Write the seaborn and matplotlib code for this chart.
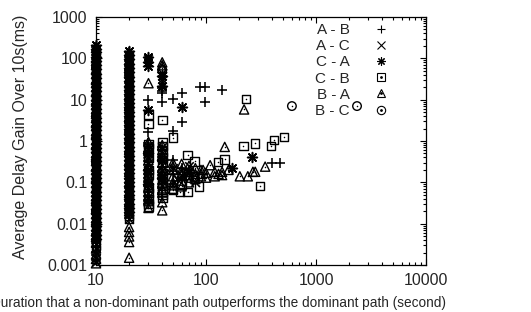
import numpy as np
import pandas as pd
import seaborn as sns
import matplotlib.pyplot as plt
from matplotlib.lines import Line2D
from matplotlib.legend_handler import HandlerTuple
from matplotlib.ticker import LogLocator, NullFormatter, FixedLocator, FixedFormatter

# ---- data: gain (ms) per duration column ----
# A - B  (+)
ab_c10 = [190, 150, 120, 95, 70, 55, 42, 33, 26, 20.5, 16, 12.5, 9.5, 7.7, 6, 4.8, 3.7, 3,
          2.3, 1.85, 1.4, 1.1, 0.85, 0.68, 0.52, 0.42, 0.33, 0.26, 0.2, 0.16, 0.12, 0.095,
          0.075, 0.06, 0.046, 0.037, 0.028, 0.022, 0.017, 0.014, 0.011, 0.0088, 0.0068,
          0.0055, 0.0042, 0.0034, 0.0027, 0.0021, 0.0017, 0.0013]
ab_c20 = [140, 110, 85, 66, 52, 41, 33, 26, 20, 15.5, 12, 9.5, 7.5, 5.9, 4.6, 3.6, 2.8, 2.2,
          1.75, 1.37, 1.07, 0.84, 0.66, 0.52, 0.41, 0.32, 0.25, 0.2, 0.155, 0.12, 0.095,
          0.074, 0.058, 0.046, 0.036, 0.028, 0.022, 0.018, 0.014]
ab_c30 = [10, 1.65, 0.9, 0.8, 0.55, 0.45, 0.33, 0.27, 0.2, 0.16, 0.13, 0.1, 0.08, 0.06,
          0.048, 0.037, 0.03]
ab_c40 = [19, 16, 14.5, 8.8, 0.7, 0.62, 0.4, 0.33, 0.24, 0.19, 0.15, 0.12, 0.09, 0.072,
          0.055, 0.045]
ab_dur = [50, 50, 50, 50, 50, 60, 60, 60, 60, 70, 88, 98, 98, 140, 400, 470]
ab_gain = [10.5, 1.7, 0.35, 0.16, 0.09, 14.6, 2.9, 0.12, 0.22, 0.2, 20.5, 20, 8.8, 17,
           0.29, 0.29]

# A - C  (x)
ac_c10 = [160, 125, 100, 78, 60, 47, 36, 28, 22, 17, 13.5, 10.5, 8.2, 6.4, 5, 3.9, 3.1,
          2.4, 1.9, 1.5, 1.15, 0.9, 0.7, 0.55, 0.43, 0.34, 0.27, 0.21, 0.165, 0.13, 0.1,
          0.08, 0.062, 0.049, 0.038, 0.03, 0.023, 0.018, 0.014, 0.011, 0.0085, 0.0066,
          0.0052, 0.0041, 0.0033, 0.0026, 0.002, 0.0015, 0.0012]
ac_c20 = [120, 93, 72, 57, 44, 35, 27, 21, 16.5, 13, 10, 8, 6.2, 4.9, 3.8, 3, 2.3, 1.8,
          1.4, 1.1, 0.86, 0.68, 0.53, 0.41, 0.32, 0.25, 0.2, 0.155, 0.12, 0.095, 0.075,
          0.059, 0.046, 0.036, 0.028, 0.022, 0.017, 0.013]
ac_c30 = [95, 0.75, 0.6, 0.38, 0.3, 0.17, 0.13, 0.09, 0.07, 0.045]
ac_c40 = [45, 32, 26, 0.7, 0.5, 0.27, 0.2, 0.14, 0.11, 0.08]
ac_dur = [50, 60, 70, 80, 55]
ac_gain = [0.22, 0.14, 0.25, 0.1, 0.12]

# C - A  (*)
ca_c10 = [210, 170, 140, 110, 88, 69, 54, 42, 33, 26, 20, 16, 12.5, 9.8, 7.7, 6, 4.7, 3.7,
          2.9, 2.3, 1.8, 1.4, 1.1, 0.86, 0.68, 0.53, 0.42, 0.33, 0.26, 0.2, 0.16, 0.125,
          0.098, 0.077, 0.06, 0.047, 0.037, 0.029, 0.023, 0.018, 0.014, 0.011, 0.0088,
          0.0069, 0.0054, 0.0043]
ca_c20 = [150, 118, 95, 74, 58, 46, 36, 28, 22, 17, 13.5, 10.6, 8.3, 6.5, 5.1, 4, 3.1, 2.4,
          1.9, 1.5, 1.2, 0.92, 0.72, 0.56, 0.44, 0.35, 0.27, 0.21, 0.17, 0.13, 0.1, 0.08,
          0.063, 0.05, 0.039, 0.03, 0.024, 0.019]
ca_c30 = [108, 81, 66, 5.6, 0.5, 0.2, 0.09]
ca_c40 = [38, 22, 0.35, 0.13]
ca_dur = [60, 70, 172, 262]
ca_gain = [6.7, 0.18, 0.22, 0.41]

# C - B  (square)
cb_c10 = [130, 80, 48, 29, 18, 11, 6.8, 4.2, 2.6, 1.6, 1.0, 0.62, 0.38, 0.23, 0.145,
          0.09, 0.055, 0.034, 0.021, 0.013, 0.008, 0.005, 0.003]
cb_c20 = [110, 66, 40, 24, 15, 9, 5.5, 3.3, 2, 1.2, 0.75, 0.46, 0.28, 0.17, 0.1, 0.062,
          0.038, 0.024, 0.016, 0.013]
cb_c30 = [4.3, 2.6, 0.85, 0.65, 0.4, 0.2, 0.15, 0.075, 0.055, 0.04, 0.03, 0.026]
cb_c40 = [3.2, 0.95, 0.75, 0.55, 0.4, 0.3, 0.17, 0.12, 0.085, 0.06, 0.05, 0.042]
cb_dur = [50, 58, 68, 68, 79, 86, 128, 148, 218, 230, 280, 310, 390, 415, 510, 50, 60]
cb_gain = [1.2, 0.058, 0.058, 0.46, 0.32, 0.08, 0.31, 0.36, 0.75, 10.4, 0.88, 0.082, 0.75,
           1.05, 1.25, 0.065, 0.09]

# B - A  (triangle)
ba_c10 = [100, 55, 30, 16, 9, 5, 2.7, 1.5, 0.8, 0.45, 0.24, 0.13, 0.072, 0.04, 0.022,
          0.012, 0.0065, 0.0048, 0.0035, 0.0025, 0.0018, 0.0014, 0.0011]
ba_c20 = [90, 48, 25, 13, 7, 3.8, 2, 1.1, 0.6, 0.33, 0.18, 0.1, 0.055, 0.033, 0.02, 0.0083,
          0.0063, 0.0049, 0.0036, 0.0015]
ba_c30 = [25, 0.95, 0.7, 0.5, 0.35, 0.25, 0.14, 0.11, 0.08, 0.045, 0.035, 0.024]
ba_c40 = [80, 68, 58, 0.8, 0.6, 0.45, 0.3, 0.22, 0.16, 0.1, 0.065, 0.033, 0.021]
ba_dur = [50, 50, 50, 50, 50, 50, 50, 60, 60, 60, 60, 60, 60, 70, 70, 70, 70, 70, 80, 80,
          80, 80, 90, 90, 90, 94, 100, 100, 109, 120, 120, 130, 140, 140, 148, 160, 203,
          222, 240, 267, 280, 345]
ba_gain = [0.3, 0.24, 0.2, 0.14, 0.1, 0.085, 0.07, 0.28, 0.2, 0.17, 0.15, 0.11, 0.08, 0.25,
           0.18, 0.15, 0.13, 0.1, 0.22, 0.16, 0.14, 0.12, 0.2, 0.16, 0.14, 0.2, 0.17, 0.13,
           0.26, 0.14, 0.18, 0.16, 0.18, 0.15, 0.72, 0.2, 0.14, 5.8, 0.14, 0.18, 0.18, 0.24]

# B - C  (circle)
bc_c10 = [60, 4, 0.3, 0.02]
bc_c20 = [50, 3, 0.25]
bc_c30 = []
bc_c40 = []
bc_dur = [40, 604, 2360]
bc_gain = [52, 7, 7]

labels = ["A - B", "A - C", "C - A", "C - B", "B - A", "B - C"]
xticks = [10, 100, 1000, 10000]
xticklabels = ["10", "100", "1000", "10000"]
yticks = [0.001, 0.01, 0.1, 1, 10, 100, 1000]
yticklabels = ["0.001", "0.01", "0.1", "1", "10", "100", "1000"]


def build(c10, c20, c30, c40, dur, gain):
    x = [10] * len(c10) + [20] * len(c20) + [30] * len(c30) + [40] * len(c40) + dur
    y = c10 + c20 + c30 + c40 + gain
    return pd.DataFrame({"dur": x, "gain": y})


series = [
    build(ab_c10, ab_c20, ab_c30, ab_c40, ab_dur, ab_gain),
    build(ac_c10, ac_c20, ac_c30, ac_c40, ac_dur, ac_gain),
    build(ca_c10, ca_c20, ca_c30, ca_c40, ca_dur, ca_gain),
    build(cb_c10, cb_c20, cb_c30, cb_c40, cb_dur, cb_gain),
    build(ba_c10, ba_c20, ba_c30, ba_c40, ba_dur, ba_gain),
    build(bc_c10, bc_c20, bc_c30, bc_c40, bc_dur, bc_gain),
]
markers = ["+", "x", (8, 2, 0), "s", "^", "o"]
dotted = [False, False, False, True, True, True]
sizes = [58, 38, 50, 38, 44, 38]

sns.set_style("ticks")
plt.rcParams["font.family"] = ["Liberation Sans", "DejaVu Sans"]

fig = plt.figure(figsize=(5.31, 3.12), dpi=100)
ax = fig.add_axes([96 / 531, 1 - 265 / 312, 330 / 531, 248 / 312])

for df, m, dot, sz in zip(series, markers, dotted, sizes):
    if dot:
        sns.scatterplot(data=df, x="dur", y="gain", marker=m, s=sz, facecolor="none",
                        edgecolor="black", linewidth=1.0, clip_on=False, ax=ax, zorder=3)
        sns.scatterplot(data=df, x="dur", y="gain", marker="o", s=1.2, color="black",
                        edgecolor="black", linewidth=0, clip_on=False, ax=ax, zorder=3)
    else:
        sns.scatterplot(data=df, x="dur", y="gain", marker=m, s=sz, color="black",
                        linewidth=1.15, clip_on=False, ax=ax, zorder=3)

ax.set_xscale("log")
ax.set_yscale("log")
ax.set_xlim(10, 10000)
ax.set_ylim(0.001, 1000)
ax.xaxis.set_major_locator(FixedLocator(xticks))
ax.xaxis.set_major_formatter(FixedFormatter(xticklabels))
ax.yaxis.set_major_locator(FixedLocator(yticks))
ax.yaxis.set_major_formatter(FixedFormatter(yticklabels))
ax.xaxis.set_minor_locator(LogLocator(base=10, subs=np.arange(2, 10)))
ax.yaxis.set_minor_locator(LogLocator(base=10, subs=np.arange(2, 10)))
ax.xaxis.set_minor_formatter(NullFormatter())
ax.yaxis.set_minor_formatter(NullFormatter())
ax.tick_params(which="both", direction="in", top=True, right=True, color="black", width=0.8)
ax.tick_params(which="major", length=4.5, labelsize=11.5, pad=6)
ax.tick_params(which="minor", length=2.2)
for sp in ax.spines.values():
    sp.set_linewidth(0.9)
    sp.set_color("black")

ax.set_xlabel("Duration that a non-dominant path outperforms the dominant path (second)",
              fontsize=9.8, ha="right", va="center")
ax.xaxis.set_label_coords(1.0606, -0.155)
ax.set_ylabel("Average Delay Gain Over 10s(ms)", fontsize=11.5, va="center")
ax.yaxis.set_label_coords(-0.228, 0.515)

handles = []
for m, dot in zip(markers, dotted):
    if dot:
        h = (Line2D([], [], marker=m, linestyle="none", markerfacecolor="none",
                    markeredgecolor="black", markersize=6, markeredgewidth=0.8),
             Line2D([], [], marker="o", linestyle="none", color="black", markersize=1))
    else:
        h = Line2D([], [], marker=m, linestyle="none", color="black", markersize=6,
                   markeredgewidth=0.8)
    handles.append(h)

ax.legend(handles, labels, handler_map={tuple: HandlerTuple(ndivide=1)},
          loc="upper left", bbox_to_anchor=(0.665, 0.975), frameon=False, markerfirst=False,
          fontsize=11, handlelength=1.0, handletextpad=1.5, labelspacing=0.14,
          borderpad=0, borderaxespad=0)

fig.savefig("out.png", dpi=100)
